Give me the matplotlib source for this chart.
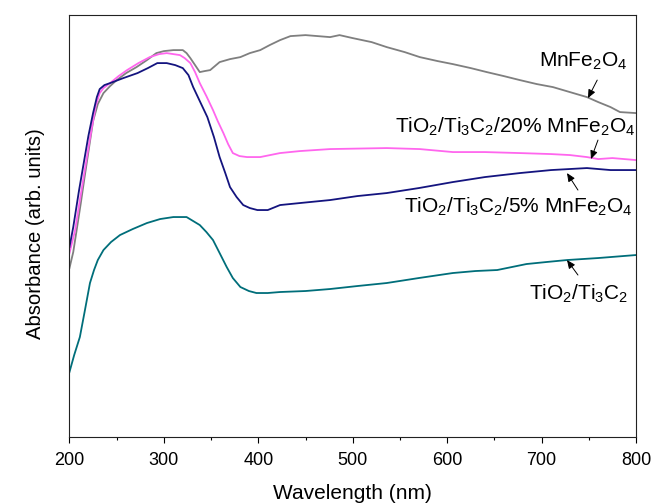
import matplotlib
matplotlib.use("Agg")
import matplotlib.pyplot as plt

plt.rcParams["font.family"] = ["Liberation Sans", "DejaVu Sans"]
plt.rcParams["mathtext.fontset"] = "custom"
plt.rcParams["mathtext.rm"] = "Liberation Sans"
plt.rcParams["mathtext.it"] = "Liberation Sans:italic"

# ---------------- data (arb. units) ----------------
wl_mnfe = [200, 204, 207.6, 212, 216, 220, 225, 230, 236, 243, 250, 260, 271, 282, 292, 300,
           310, 320, 324, 328, 333, 338, 343, 349, 354, 359, 370, 381, 391, 402, 412, 423,
           434, 450, 476, 486, 500, 520, 536, 555, 571, 590, 606, 625, 642, 660, 677, 695,
           712, 730, 748, 760, 773, 783, 800]
abs_mnfe = [169, 185, 207, 234, 260, 285, 316, 333, 344, 351, 357, 364, 370, 377, 384, 386,
            387, 387, 384, 379, 372, 365, 366, 367, 371, 375, 378, 380, 384, 387, 392, 397,
            401, 402, 400, 402, 399, 395, 390, 385, 380, 376, 373, 369, 365, 361, 357, 353,
            350, 345, 340, 335, 330, 325, 324]

wl_20 = [200, 206, 210, 216, 220, 224, 228, 232, 236, 243, 252, 261, 273, 285, 295, 303,
         310, 317, 322, 328, 333, 338, 345, 352, 357, 363, 368, 373, 380, 388, 402, 423,
         444, 476, 536, 571, 606, 640, 677, 710, 730, 748, 760, 775, 800]
abs_20 = [184, 207, 231, 266, 289, 311, 332, 344, 349, 354, 361, 367, 374, 380, 383, 384,
          383, 382, 379, 374, 365, 354, 341, 327, 316, 304, 293, 284, 281, 280, 280, 284,
          286, 288, 289, 288, 285, 285, 284, 283, 282, 280, 278, 279, 277]

wl_5 = [200, 204, 210, 216, 220, 225, 229, 232, 237, 243, 257, 272, 283, 293, 303, 312,
        320, 326, 331, 338, 346, 353, 359, 365, 370, 377, 384, 391, 399, 410, 423, 444,
        476, 505, 536, 570, 606, 640, 677, 710, 748, 773, 800]
abs_5 = [190, 210, 246, 279, 301, 324, 340, 348, 352, 354, 359, 364, 369, 374, 374, 372,
         369, 362, 350, 336, 320, 300, 280, 264, 250, 240, 232, 229, 227, 227, 232, 234,
         237, 241, 244, 249, 255, 260, 264, 267, 269, 267, 267]

wl_tc = [200, 205, 211, 216, 221.7, 226, 230, 236, 244, 253.5, 267, 282, 296, 310, 324, 331,
         338, 345, 352, 359, 366.5, 373, 381, 390, 398, 410, 423, 450, 476, 505, 536, 570,
         606, 630, 653, 684, 705, 727, 760, 800]
abs_tc = [65, 82, 100, 125, 154, 167, 177, 187, 195, 202, 208, 214, 218, 220, 220, 216,
          212, 205, 197, 184, 170, 159, 150, 146, 144, 144, 145, 146, 148, 151, 154, 159,
          164, 166, 167, 173, 175, 177, 179, 182]

xticks = [200, 300, 400, 500, 600, 700, 800]

# ---------------- plot ----------------
fig = plt.figure(figsize=(6.53, 5.04), dpi=100)
ax = fig.add_axes([0.1064, 0.133, 0.8676, 0.837])

ax.plot(wl_mnfe, abs_mnfe, color="#7f7f7f", lw=1.3)
ax.plot(wl_20, abs_20, color="#ff66ee", lw=1.3)
ax.plot(wl_5, abs_5, color="#14147f", lw=1.3)
ax.plot(wl_tc, abs_tc, color="#006e7a", lw=1.3)

ax.set_xlim(200, 800)
ax.set_ylim(0, 422)
ax.set_xticks(xticks)
ax.set_xticks(range(250, 800, 100), minor=True)
ax.set_yticks([])
ax.tick_params(axis="x", which="major", direction="out", length=4, width=0.8,
               labelsize=13, pad=6.5)
ax.tick_params(axis="x", which="minor", direction="out", length=2.5, width=0.8)
for s in ax.spines.values():
    s.set_linewidth(0.8)
    s.set_color("#222222")

ax.set_xlabel("Wavelength (nm)", fontsize=15, labelpad=11)
ax.set_ylabel("Absorbance (arb. units)", fontsize=14.6)
ax.yaxis.set_label_coords(-0.043, 0.483)

# labels + arrows
fs = 15
ax.text(790.5, 370, "MnFe$_2$O$_4$", ha="right", va="baseline", fontsize=fs)
ax.text(799, 304, "TiO$_2$/Ti$_3$C$_2$/20% MnFe$_2$O$_4$", ha="right", va="baseline", fontsize=fs)
ax.text(796, 224, "TiO$_2$/Ti$_3$C$_2$/5% MnFe$_2$O$_4$", ha="right", va="baseline", fontsize=fs)
ax.text(791.7, 137, "TiO$_2$/Ti$_3$C$_2$", ha="right", va="baseline", fontsize=fs)

arrow = dict(arrowstyle="-|>,head_length=0.5,head_width=0.22", color="black", lw=0.7,
             shrinkA=0, shrinkB=0)
ax.annotate("", xy=(749.1, 339), xytext=(758.9, 357), arrowprops=arrow)
ax.annotate("", xy=(752.3, 278), xytext=(759.7, 297), arrowprops=arrow)
ax.annotate("", xy=(726.9, 264), xytext=(738.5, 247), arrowprops=arrow)
ax.annotate("", xy=(726.9, 177), xytext=(738.5, 162), arrowprops=arrow)

fig.savefig("out.png", dpi=100)
